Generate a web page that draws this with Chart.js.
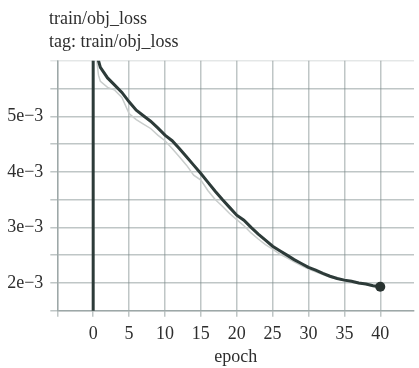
<!DOCTYPE html>
<html>
<head>
<meta charset="utf-8">
<script src="https://cdn.jsdelivr.net/npm/chart.js@4/dist/chart.umd.min.js"></script>
<style>
  html, body { margin: 0; padding: 0; background: #fff; overflow: hidden; }
  #wrap { position: relative; width: 419px; height: 368px; }
</style>
</head>
<body>
<div id="wrap"><canvas id="c" width="419" height="368"></canvas></div>
<script>
// Smoothed objectness loss per epoch (the first two entries are the logged start at epoch 0)
const smoothEpochs = [0, 0, 0.74, 1, 2, 3, 4, 5, 6, 7, 8, 9, 10, 11, 12, 13, 14, 15, 16, 17, 18, 19, 20,
  21, 22, 23, 24, 25, 26, 27, 28, 29, 30, 31, 32, 33, 34, 35, 36, 37, 38, 39, 40];
const smoothLoss = [0, 3.0e-2, 6.00e-3, 5.88e-3, 5.69e-3, 5.56e-3, 5.43e-3, 5.26e-3, 5.11e-3, 5.01e-3,
  4.91e-3, 4.79e-3, 4.66e-3, 4.56e-3, 4.42e-3, 4.27e-3, 4.12e-3, 3.97e-3, 3.81e-3, 3.65e-3, 3.50e-3,
  3.36e-3, 3.22e-3, 3.13e-3, 3.00e-3, 2.88e-3, 2.77e-3, 2.66e-3, 2.58e-3, 2.50e-3, 2.42e-3, 2.35e-3,
  2.28e-3, 2.23e-3, 2.17e-3, 2.12e-3, 2.08e-3, 2.05e-3, 2.03e-3, 2.00e-3, 1.98e-3, 1.95e-3, 1.93e-3];

// Raw (unsmoothed) objectness loss
const rawEpochs = [0.5, 0.74, 1, 2, 3, 4, 5, 6, 7, 8, 9, 10, 11, 12, 13, 14, 15, 16, 17, 18, 19, 20,
  21, 22, 23, 24, 25, 26, 27, 28, 29, 30, 31, 32, 33, 34, 35, 36, 37, 38, 39, 40];
const rawLoss = [6.00e-3, 5.74e-3, 5.63e-3, 5.52e-3, 5.47e-3, 5.34e-3, 5.05e-3, 4.94e-3, 4.86e-3,
  4.78e-3, 4.66e-3, 4.56e-3, 4.42e-3, 4.27e-3, 4.12e-3, 3.94e-3, 3.85e-3, 3.66e-3, 3.50e-3, 3.38e-3,
  3.25e-3, 3.14e-3, 3.03e-3, 2.90e-3, 2.79e-3, 2.69e-3, 2.61e-3, 2.52e-3, 2.45e-3, 2.38e-3, 2.31e-3,
  2.25e-3, 2.20e-3, 2.15e-3, 2.10e-3, 2.07e-3, 2.04e-3, 2.01e-3, 1.99e-3, 1.97e-3, 1.94e-3, 1.92e-3];

// Axis ticks and their labels
const xTicks = [-5, 0, 5, 10, 15, 20, 25, 30, 35, 40];
const xTickLabels = ['', '0', '5', '10', '15', '20', '25', '30', '35', '40'];
const yTicks = [1.5e-3, 2e-3, 2.5e-3, 3e-3, 3.5e-3, 4e-3, 4.5e-3, 5e-3, 5.5e-3, 6e-3];
const yTickLabels = ['', '2e\u22123', '', '3e\u22123', '', '4e\u22123', '', '5e\u22123', '', ''];

const titleLines = ['train/obj_loss', 'tag: train/obj_loss'];
const xTitle = 'epoch';

const FONT = "'Liberation Serif', 'Times New Roman', serif";
const TEXT = '#2e2e2e';
const GRID = 'rgba(120,134,134,0.47)';
const LINE = '#2d3b39';

const toPoints = (xs, ys) => xs.map((x, i) => ({ x, y: ys[i] }));

// Two-line heading drawn above the plot, starting just left of the y axis
const heading = {
  id: 'heading',
  afterDraw(chart) {
    const ctx = chart.ctx;
    ctx.save();
    ctx.fillStyle = TEXT;
    ctx.font = '18px ' + FONT;
    ctx.textAlign = 'left';
    ctx.textBaseline = 'alphabetic';
    const x0 = chart.chartArea.left - 8.3;
    titleLines.forEach((t, i) => ctx.fillText(t, x0, 24 + i * 23));
    ctx.restore();
  }
};

new Chart(document.getElementById('c'), {
  type: 'line',
  data: {
    datasets: [
      {
        label: 'smoothed',
        data: toPoints(smoothEpochs, smoothLoss),
        borderColor: LINE,
        borderWidth: 3,
        tension: 0,
        pointRadius: ctx => (ctx.dataIndex === smoothLoss.length - 1 ? 5 : 0),
        pointBackgroundColor: '#293331',
        pointBorderWidth: 0,
        order: 0
      },
      {
        label: 'raw',
        data: toPoints(rawEpochs, rawLoss),
        borderColor: '#c9cdcc',
        borderWidth: 1.5,
        tension: 0,
        pointRadius: 0,
        order: 1
      }
    ]
  },
  plugins: [heading],
  options: {
    responsive: false,
    devicePixelRatio: 1,
    animation: false,
    layout: { padding: { left: 0, right: 0, top: 60.7, bottom: 0 } },
    plugins: {
      legend: { display: false },
      tooltip: { enabled: false },
      title: { display: false }
    },
    scales: {
      x: {
        type: 'linear',
        min: -5,
        max: 44.7,
        afterBuildTicks: s => { s.ticks = xTicks.map(v => ({ value: v })); },
        afterFit: s => { s.height = 57.3; },
        ticks: {
          autoSkip: false,
          maxRotation: 0,
          padding: 6.5,
          color: TEXT,
          font: { family: FONT, size: 18 },
          callback: (v, i) => xTickLabels[i]
        },
        grid: { color: GRID, lineWidth: 1.5, tickLength: 6 },
        border: { display: true, color: GRID, width: 1.5 },
        title: {
          display: true,
          text: xTitle,
          color: TEXT,
          font: { family: FONT, size: 18 },
          padding: { top: 2, bottom: 0 }
        }
      },
      y: {
        type: 'linear',
        min: 1.5e-3,
        max: 6e-3,
        afterBuildTicks: s => { s.ticks = yTicks.map(v => ({ value: v })); },
        afterFit: s => { s.width = 57.3; },
        ticks: {
          autoSkip: false,
          padding: 7,
          color: TEXT,
          font: { family: FONT, size: 18 },
          callback: (v, i) => yTickLabels[i]
        },
        grid: {
          color: ctx => (ctx.tick && ctx.tick.value >= 6e-3 ? 'rgba(120,134,134,0.2)' : GRID),
          lineWidth: 1.5,
          tickLength: 7
        },
        border: { display: true, color: GRID, width: 1.5 }
      }
    }
  }
});
</script>
</body>
</html>
